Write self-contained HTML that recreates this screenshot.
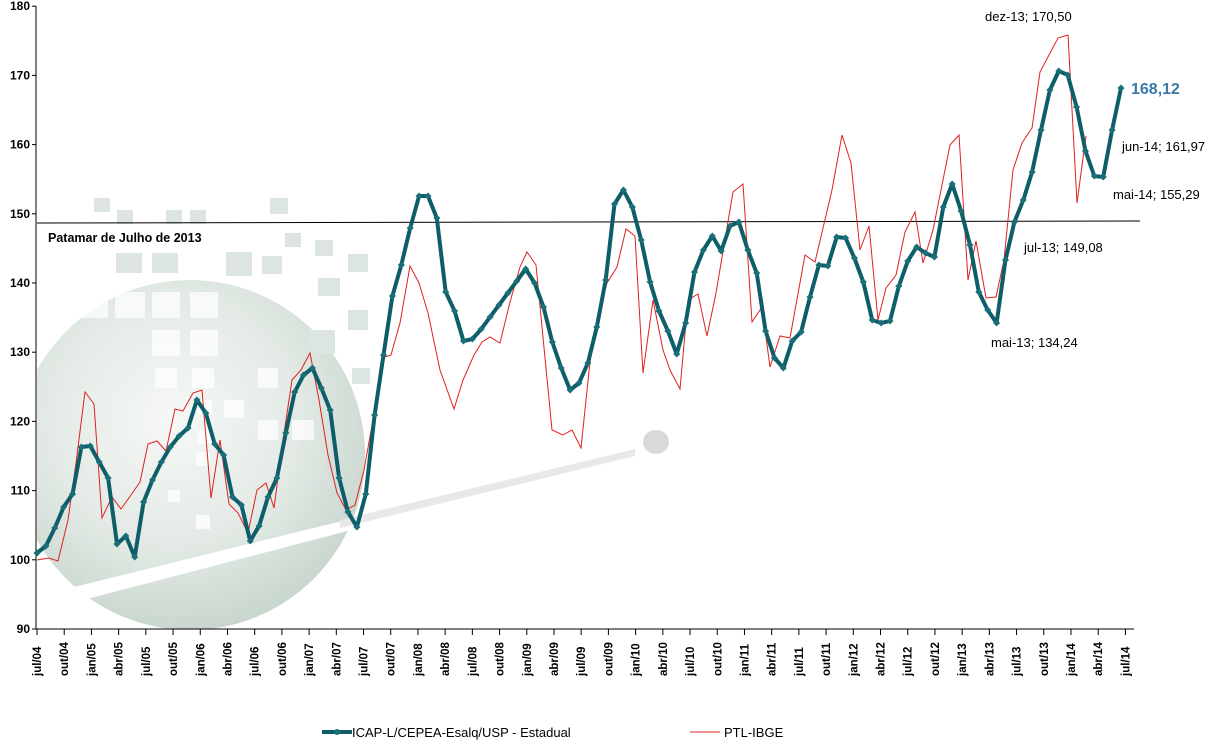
<!DOCTYPE html>
<html><head><meta charset="utf-8"><style>
body{margin:0;background:#fff;}
svg text{font-family:"Liberation Sans",sans-serif;}
</style></head><body>
<svg id="s" width="1210" height="740" xmlns="http://www.w3.org/2000/svg">
<defs>
<radialGradient id="g" cx="0.45" cy="0.4" r="0.65">
<stop offset="0" stop-color="#f6f8f6"/><stop offset="0.55" stop-color="#e3eae5"/><stop offset="1" stop-color="#c4d3ca"/>
</radialGradient>
<clipPath id="c"><rect x="37" y="0" width="1200" height="629"/></clipPath>
</defs>
<g clip-path="url(#c)">
<circle cx="190" cy="455" r="175" fill="url(#g)"/>
<polygon points="37,596 635,449 635,456 37,612" fill="#ffffff"/>
<polygon points="340,520 635,449 635,456 340,528" fill="#e8e8e8"/>
</g>
<ellipse cx="656" cy="442" rx="13" ry="12" fill="#d9d9d9"/>
<g fill="#dde5e0">
<rect x="94" y="198" width="16" height="14"/><rect x="117" y="210" width="16" height="14"/><rect x="166" y="210" width="16" height="14"/><rect x="190" y="210" width="16" height="14"/>
<rect x="116" y="253" width="26" height="20"/><rect x="152" y="253" width="26" height="20"/><rect x="226" y="252" width="26" height="24"/><rect x="262" y="256" width="20" height="18"/>
<rect x="270" y="198" width="18" height="16"/><rect x="285" y="233" width="16" height="14"/><rect x="315" y="240" width="18" height="16"/><rect x="348" y="254" width="20" height="18"/>
<rect x="318" y="278" width="22" height="18"/><rect x="348" y="310" width="20" height="20"/><rect x="309" y="330" width="26" height="24"/><rect x="352" y="368" width="18" height="16"/>
</g>
<g fill="#ffffff" opacity="0.75">
<rect x="78" y="292" width="30" height="26"/><rect x="115" y="292" width="30" height="26"/><rect x="152" y="292" width="28" height="26"/><rect x="190" y="292" width="28" height="26"/>
<rect x="152" y="330" width="28" height="26"/><rect x="190" y="330" width="28" height="26"/><rect x="155" y="368" width="22" height="20"/><rect x="192" y="368" width="22" height="20"/>
<rect x="198" y="400" width="14" height="14"/><rect x="198" y="430" width="14" height="14"/><rect x="196" y="452" width="14" height="14"/><rect x="168" y="490" width="12" height="12"/><rect x="196" y="515" width="14" height="14"/>
<rect x="224" y="400" width="20" height="18"/><rect x="258" y="368" width="20" height="20"/><rect x="258" y="420" width="20" height="20"/><rect x="292" y="420" width="22" height="20"/>
</g>
<line x1="36" y1="6" x2="36" y2="629" stroke="#000"/>
<line x1="36" y1="629" x2="1134" y2="629" stroke="#000"/>
<g id="yt" font-size="12" font-weight="bold" text-anchor="end"></g>
<g id="xt" font-size="11.5" font-weight="bold"></g>
<line x1="37" y1="223" x2="1140" y2="221" stroke="#000" stroke-width="1"/>
<text x="48" y="242" font-size="12.5" font-weight="bold">Patamar de Julho de 2013</text>
<polyline id="red" fill="none" stroke="#e02020" stroke-width="1" points="37,560 49,558 58,561 68,520 76,463 85,392 94,404 102,518 112,497 121,509 131,495 140,482 148,444 157,441 166,451 175,409 183,411 193,393 202,390 211,498 220,440 229,504 238,513 248,533 257,490 266,483 274,508 283,440 292,380 301,370 310,353 319,400 328,455 337,493 346,510 355,505 364,470 373,420 382,358 391,355 400,323 410,266 419,283 428,313 440,370 454,409 463,380 474,355 482,342 490,337 500,343 510,302 520,267 527,252 536,265 552,430 563,435 572,430 581,448 590,362 597,320 607,283 617,267 626,229 635,236 643,373 653,300 663,350 670,370 680,389 688,300 698,294 707,336 716,293 733,192 743,184 752,322 762,307 770,367 780,336 790,338 805,255 815,262 832,190 842,135 851,163 860,250 869,226 878,320 886,288 896,275 905,232 915,212 923,263 933,230 950,145 959,135 968,280 976,241 986,298 996,297 1004,260 1013,170 1022,143 1032,128 1040,72 1058,38 1068,35 1077,203 1086,136"/>
<polyline id="tl" fill="none" stroke="#0e5e6a" stroke-width="4" stroke-linejoin="round"/>
<g id="mk" fill="#1a6e78"></g>
<g font-size="13" fill="#000">
<text x="985" y="21">dez-13; 170,50</text>
<text x="1122" y="151">jun-14; 161,97</text>
<text x="1113" y="199">mai-14; 155,29</text>
<text x="1024" y="252">jul-13; 149,08</text>
<text x="991" y="347">mai-13; 134,24</text>
</g>
<text x="1131" y="94" font-size="16" font-weight="bold" fill="#3a7aa8">168,12</text>
<line x1="322" y1="732" x2="352" y2="732" stroke="#0e5e6a" stroke-width="4"/>
<circle cx="337" cy="732" r="3" fill="#1a6e78"/>
<text x="352" y="737" font-size="13">ICAP-L/CEPEA-Esalq/USP - Estadual</text>
<line x1="690" y1="732" x2="720" y2="732" stroke="#e02020"/>
<text x="724" y="737" font-size="13">PTL-IBGE</text>
</svg>
<script>
var ns="http://www.w3.org/2000/svg";
function el(t,a,p,txt){var e=document.createElementNS(ns,t);for(var k in a)e.setAttribute(k,a[k]);if(txt!=null)e.textContent=txt;document.getElementById(p).appendChild(e);return e;}
for(var v=90;v<=180;v+=10){var y=629-(v-90)*6.92;el("text",{x:30,y:y+4},"yt",v);el("line",{x1:32,y1:y,x2:36,y2:y,stroke:"#000"},"yt");}
var mon=["jul","out","jan","abr"];
for(var i=0;i<=40;i++){var x=37+i*3*9.07;var yr=4+Math.floor((i+2)/4);var lab=mon[i%4]+"/"+(yr<10?"0"+yr:yr);
el("line",{x1:x,y1:629,x2:x,y2:635,stroke:"#000"},"xt");
el("text",{x:0,y:0,transform:"translate("+(x+4)+",676) rotate(-90)"},"xt",lab);}
var T=[553,546,528,507,494,447,446,462,478,544,536,557,502,480,462,447,436,428,400,413,444,455,497,505,541,526,497,478,433,392,375,368,388,410,478,512,527,494,415,355,296,265,228,196,196,218,292,311,341,339,329,317,305,293,281,269,283,307,342,368,390,383,363,327,280,204,190,207,240,282,311,331,354,323,272,250,236,251,226,222,250,273,331,358,368,341,332,297,265,266,237,238,258,282,320,323,321,286,261,247,253,257,207,184,211,245,292,310,323,260,222,200,172,130,90,71,75,107,151,176,177,130,88];
var n=T.length,st=(1121-37)/(n-1),pts=[];
for(var i=0;i<n;i++){var x=37+i*st;pts.push(x.toFixed(1)+","+T[i]);el("rect",{x:x-2.5,y:T[i]-2.5,width:5,height:5,transform:"rotate(45 "+x+" "+T[i]+")"},"mk");}
document.getElementById("tl").setAttribute("points",pts.join(" "));
</script>
</body></html>
